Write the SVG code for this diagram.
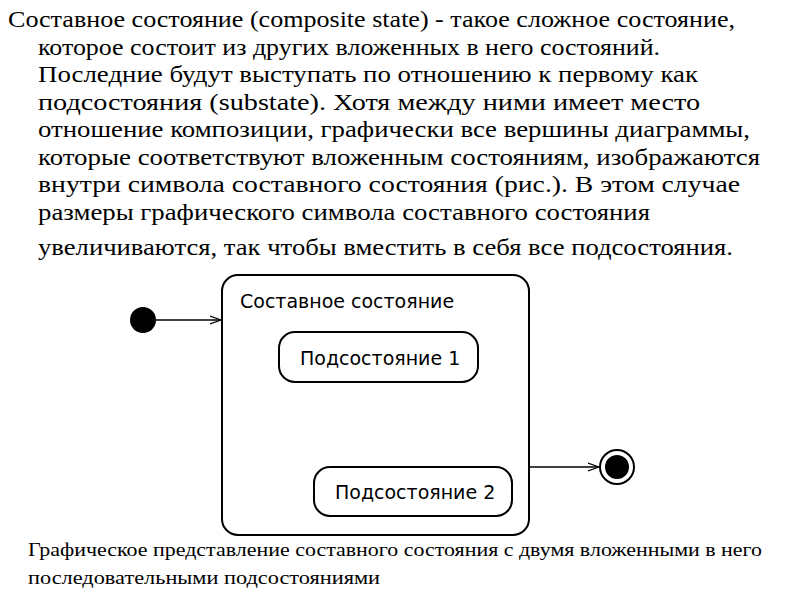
<svg xmlns="http://www.w3.org/2000/svg" width="800" height="600" viewBox="0 0 800 600">
<style>
.t{font-family:"Liberation Serif",serif;font-size:24px;fill:#000}
.c{font-family:"Liberation Serif",serif;font-size:18px;fill:#000}
.s{font-family:"DejaVu Sans","Liberation Sans",sans-serif;font-size:19px;fill:#000}
.box{fill:#fff;stroke:#000;stroke-width:2}
.ln{stroke:#000;stroke-width:1.5;fill:none}
</style>
<defs><marker id="a" markerWidth="12" markerHeight="10" refX="11" refY="5" orient="auto" markerUnits="userSpaceOnUse"><path d="M0,1 L11,5 L0,9" fill="none" stroke="#000" stroke-width="1.3"/></marker></defs>
<rect width="800" height="600" fill="#fff"/>
<g id="text">
<text class="t" x="8" y="27" textLength="727" lengthAdjust="spacingAndGlyphs">Составное состояние (composite state) - такое сложное состояние,</text>
<text class="t" x="38" y="55" textLength="622" lengthAdjust="spacingAndGlyphs">которое состоит из других вложенных в него состояний.</text>
<text class="t" x="38" y="82" textLength="660" lengthAdjust="spacingAndGlyphs">Последние будут выступать по отношению к первому как</text>
<text class="t" x="38" y="110" textLength="662" lengthAdjust="spacingAndGlyphs">подсостояния (substate). Хотя между ними имеет место</text>
<text class="t" x="38" y="137" textLength="712" lengthAdjust="spacingAndGlyphs">отношение композиции, графически все вершины диаграммы,</text>
<text class="t" x="38" y="165" textLength="722" lengthAdjust="spacingAndGlyphs">которые соответствуют вложенным состояниям, изображаются</text>
<text class="t" x="38" y="192" textLength="702" lengthAdjust="spacingAndGlyphs">внутри символа составного состояния (рис.). В этом случае</text>
<text class="t" x="38" y="220" textLength="612" lengthAdjust="spacingAndGlyphs">размеры графического символа составного состояния</text>
<text class="t" x="38" y="255" textLength="695" lengthAdjust="spacingAndGlyphs">увеличиваются, так чтобы вместить в себя все подсостояния.</text>
<text class="c" x="28" y="556" textLength="734" lengthAdjust="spacingAndGlyphs">Графическое представление составного состояния с двумя вложенными в него</text>
<text class="c" x="28" y="584" textLength="352" lengthAdjust="spacingAndGlyphs">последовательными подсостояниями</text>
</g>
<g id="composite"><rect class="box" x="222" y="275" width="307" height="260" rx="16"/><text class="s" x="240" y="308">Составное состояние</text></g>
<g id="sub1"><rect class="box" x="279" y="332" width="199" height="50" rx="16"/><text class="s" x="300" y="365">Подсостояние 1</text></g>
<g id="sub2"><rect class="box" x="314" y="467" width="198" height="49" rx="16"/><text class="s" x="335" y="499">Подсостояние 2</text></g>
<g id="initial"><circle cx="143" cy="320" r="13" fill="#000"/></g>
<g id="final"><circle cx="617" cy="467" r="17" fill="#fff" stroke="#000" stroke-width="2"/><circle cx="617" cy="467" r="12" fill="#000"/></g>
<g id="connectors">
<line class="ln" x1="156" y1="320" x2="221" y2="320" marker-end="url(#a)"/>
<line class="ln" x1="529" y1="467" x2="599" y2="467" marker-end="url(#a)"/>
</g>
</svg>
